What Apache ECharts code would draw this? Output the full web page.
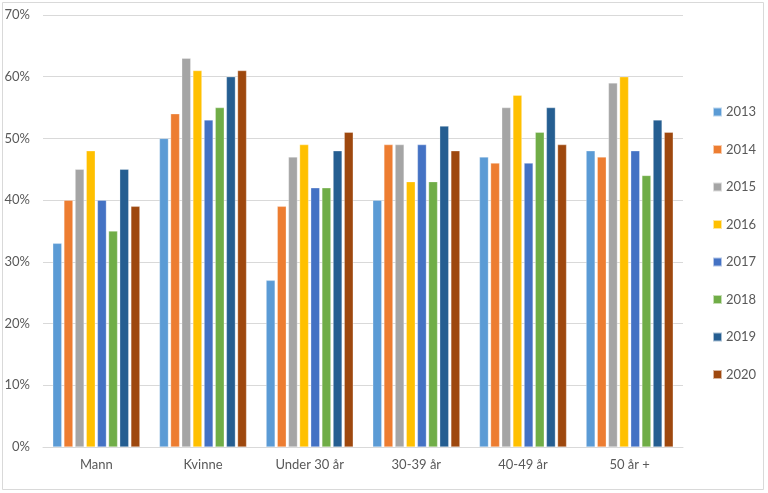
<!DOCTYPE html>
<html>
<head>
<meta charset="utf-8">
<script src="https://cdn.jsdelivr.net/npm/echarts@6/dist/echarts.min.js"></script>
<style>html,body{margin:0;padding:0;background:#fff}#c{width:768px;height:493px}</style>
</head>
<body>
<div id="c"></div>
<script>
var categories = ['Mann', 'Kvinne', 'Under 30 år', '30-39 år', '40-49 år', '50 år +'];
var years = ['2013', '2014', '2015', '2016', '2017', '2018', '2019', '2020'];
var v2013 = [33, 50, 27, 40, 47, 48];
var v2014 = [40, 54, 39, 49, 46, 47];
var v2015 = [45, 63, 47, 49, 55, 59];
var v2016 = [48, 61, 49, 43, 57, 60];
var v2017 = [40, 53, 42, 49, 46, 48];
var v2018 = [35, 55, 42, 43, 51, 44];
var v2019 = [45, 60, 48, 52, 55, 53];
var v2020 = [39, 61, 51, 48, 49, 51];
var yTicks = [0, 10, 20, 30, 40, 50, 60, 70];

var values = [v2013, v2014, v2015, v2016, v2017, v2018, v2019, v2020];
var colors = ['#5B9BD5', '#ED7D31', '#A5A5A5', '#FFC000', '#4472C4', '#70AD47', '#255E91', '#9E480E'];
var font = 'Lato, "Open Sans", sans-serif';

var chart = echarts.init(document.getElementById('c'), null, {renderer: 'canvas'});
chart.setOption({
  animation: false,
  backgroundColor: '#fff',
  color: colors,
  graphic: [{
    type: 'rect', shape: {x: 2.5, y: 2.5, width: 761, height: 487},
    style: {fill: 'none', stroke: '#D9D9D9', lineWidth: 1}, silent: true, z: -1
  }],
  grid: {left: 43, right: 85, top: 15, bottom: 46, containLabel: false},
  legend: {
    orient: 'vertical', left: 707, top: 100,
    itemWidth: 9, itemHeight: 9, itemGap: 23.5,
    icon: 'rect',
    textStyle: {color: '#595959', fontSize: 13, fontFamily: font, lineHeight: 14, padding: [0, 0, 0, -1]},
    data: years
  },
  xAxis: {
    type: 'category', data: categories,
    axisLine: {lineStyle: {color: '#D9D9D9', width: 1}},
    axisTick: {show: false},
    axisLabel: {color: '#595959', fontSize: 13, fontFamily: font, margin: 11}
  },
  yAxis: {
    type: 'value', min: yTicks[0], max: yTicks[yTicks.length - 1], interval: 10,
    axisLine: {show: false}, axisTick: {show: false},
    splitLine: {lineStyle: {color: '#D9D9D9', width: 1}},
    axisLabel: {color: '#595959', fontSize: 13, fontFamily: font, margin: 13, formatter: function (v) { return v + '%'; }}
  },
  series: years.map(function (y, i) {
    return {
      name: y, type: 'bar', data: values[i],
      barWidth: 9, barGap: '24%',
      itemStyle: {color: colors[i], borderColor: 'rgba(255,255,255,0.6)', borderWidth: 0.5}
    };
  })
});
</script>
</body>
</html>
